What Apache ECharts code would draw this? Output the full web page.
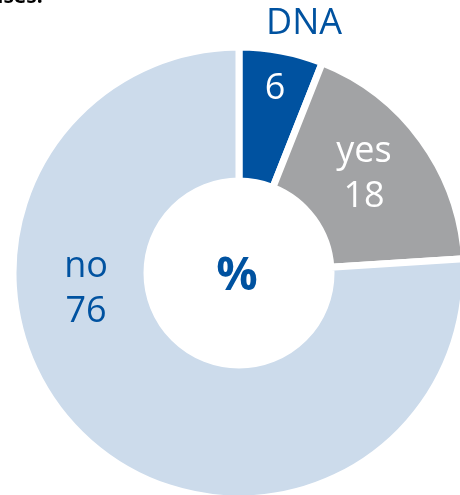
<!DOCTYPE html>
<html>
<head>
<meta charset="utf-8">
<script src="https://cdn.jsdelivr.net/npm/echarts@6/dist/echarts.min.js"></script>
<style>
html,body{margin:0;padding:0;background:#fff;}
#chart{width:460px;height:495px;}
</style>
</head>
<body>
<div id="chart"></div>
<script>
// ---- data ----
const categories = ['DNA', 'yes', 'no'];
const values = [6, 18, 76];
const unitLabel = '%';
const headerFragment = 'ises.';

// ---- styling ----
const BLUE = '#0052A0';
const colors = [BLUE, '#A2A3A5', '#CCDBEB'];
const FONT = '"Open Sans", "Noto Sans", sans-serif';
const labelAnchors = [[275, 69], [364, 174], [86, 289]];

const labelCfg = [
  {
    formatter: '{n|{b}}\n{v|{c}}',
    rich: {
      n: { color: BLUE, fontSize: 36, fontFamily: FONT, lineHeight: 40, padding: [0, 0, 0, 58] },
      v: { color: '#fff', fontSize: 36, fontFamily: FONT, lineHeight: 90 }
    }
  },
  {
    formatter: '{a|{b}}\n{a|{c}}',
    rich: { a: { color: '#fff', fontSize: 36, fontFamily: FONT, lineHeight: 45 } }
  },
  {
    formatter: '{a|{b}}\n{a|{c}}',
    rich: { a: { color: BLUE, fontSize: 36, fontFamily: FONT, lineHeight: 45 } }
  }
];

const chart = echarts.init(document.getElementById('chart'), null, { renderer: 'canvas' });
chart.setOption({
  animation: false,
  backgroundColor: '#fff',
  graphic: [
    {
      type: 'text', left: -3, top: -13,
      style: { text: headerFragment, font: 'bold 21px ' + FONT, fill: '#000' }
    },
    {
      type: 'text', x: 237, y: 277,
      style: { text: unitLabel, font: 'bold 46px ' + FONT, fill: BLUE, align: 'center', verticalAlign: 'middle' }
    }
  ],
  series: [{
    type: 'pie',
    center: [239, 273],
    radius: [92, 226],
    startAngle: 90,
    clockwise: true,
    silent: true,
    avoidLabelOverlap: false,
    itemStyle: { borderColor: '#fff', borderWidth: 7 },
    label: { show: true, position: 'inside', align: 'center', verticalAlign: 'middle' },
    labelLine: { show: false },
    labelLayout: function (p) {
      const a = labelAnchors[p.dataIndex];
      return { x: a[0], y: a[1], align: 'center', verticalAlign: 'middle' };
    },
    data: categories.map((c, i) => ({
      name: c,
      value: values[i],
      itemStyle: { color: colors[i] },
      label: labelCfg[i]
    }))
  }]
});
</script>
</body>
</html>
